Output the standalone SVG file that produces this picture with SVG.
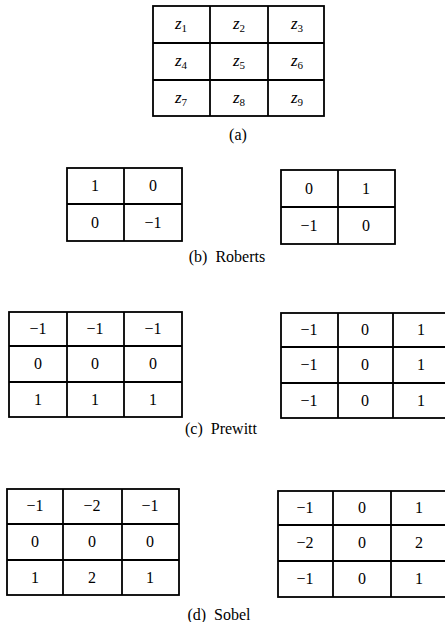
<svg xmlns="http://www.w3.org/2000/svg" width="445" height="622" viewBox="0 0 445 622">
<style>
.g{fill:none;stroke:#000;stroke-width:1.8}
.t{font-size:16px;fill:#000;text-anchor:middle}
.z{font-style:italic;font-size:17px}
.s{font-size:11px;font-style:normal}
.cap{font-size:16px;fill:#000;text-anchor:middle;white-space:pre}
</style>
<rect width="445" height="622" fill="#fff"/>
<g font-family="Liberation Serif, DejaVu Serif, Times New Roman, serif">
<g id="grid-a">
<rect class="g" x="153" y="6" width="171" height="110"/>
<path class="g" d="M210 6V116M268 6V116M153 43H324M153 80H324"/>
<text class="t z" x="181" y="29">z<tspan class="s" dy="3">1</tspan></text>
<text class="t z" x="239" y="29">z<tspan class="s" dy="3">2</tspan></text>
<text class="t z" x="297" y="29">z<tspan class="s" dy="3">3</tspan></text>
<text class="t z" x="181" y="66">z<tspan class="s" dy="3">4</tspan></text>
<text class="t z" x="239" y="66">z<tspan class="s" dy="3">5</tspan></text>
<text class="t z" x="297" y="66">z<tspan class="s" dy="3">6</tspan></text>
<text class="t z" x="181" y="103">z<tspan class="s" dy="3">7</tspan></text>
<text class="t z" x="239" y="103">z<tspan class="s" dy="3">8</tspan></text>
<text class="t z" x="297" y="103">z<tspan class="s" dy="3">9</tspan></text>
<text class="cap" x="238" y="140">(a)</text>
</g>

<g id="roberts-1">
<rect class="g" x="67" y="168" width="115" height="73"/>
<path class="g" d="M124 168V241M67 204H182"/>
<text class="t" x="95" y="191">1</text>
<text class="t" x="153" y="191">0</text>
<text class="t" x="95" y="228">0</text>
<text class="t" x="153" y="228">−1</text>
</g>
<g id="roberts-2">
<rect class="g" x="281" y="170" width="114" height="74"/>
<path class="g" d="M338 170V244M281 207H395"/>
<text class="t" x="309" y="194">0</text>
<text class="t" x="366" y="194">1</text>
<text class="t" x="309" y="231">−1</text>
<text class="t" x="366" y="231">0</text>
</g>
<text class="cap" x="227" y="262" xml:space="preserve">(b)  Roberts</text>

<g id="prewitt-1">
<rect class="g" x="9" y="312" width="173" height="105"/>
<path class="g" d="M67 312V417M124 312V417M9 346H182M9 382H182"/>
<text class="t" x="38" y="334">−1</text>
<text class="t" x="95" y="334">−1</text>
<text class="t" x="153" y="334">−1</text>
<text class="t" x="38" y="369">0</text>
<text class="t" x="95" y="369">0</text>
<text class="t" x="153" y="369">0</text>
<text class="t" x="38" y="405">1</text>
<text class="t" x="95" y="405">1</text>
<text class="t" x="153" y="405">1</text>
</g>
<g id="prewitt-2">
<rect class="g" x="281" y="313" width="168" height="105"/>
<path class="g" d="M338 313V418M393 313V418M281 347H449M281 383H449"/>
<text class="t" x="309" y="335">−1</text>
<text class="t" x="365" y="335">0</text>
<text class="t" x="421" y="335">1</text>
<text class="t" x="309" y="370">−1</text>
<text class="t" x="365" y="370">0</text>
<text class="t" x="421" y="370">1</text>
<text class="t" x="309" y="406">−1</text>
<text class="t" x="365" y="406">0</text>
<text class="t" x="421" y="406">1</text>
</g>
<text class="cap" x="221" y="434" xml:space="preserve">(c)  Prewitt</text>

<g id="sobel-1">
<rect class="g" x="7" y="489" width="172" height="106"/>
<path class="g" d="M63 489V595M122 489V595M7 524H179M7 560H179"/>
<text class="t" x="35" y="511">−1</text>
<text class="t" x="92" y="511">−2</text>
<text class="t" x="150" y="511">−1</text>
<text class="t" x="35" y="547">0</text>
<text class="t" x="92" y="547">0</text>
<text class="t" x="150" y="547">0</text>
<text class="t" x="35" y="583">1</text>
<text class="t" x="92" y="583">2</text>
<text class="t" x="150" y="583">1</text>
</g>
<g id="sobel-2">
<rect class="g" x="278" y="491" width="170" height="106"/>
<path class="g" d="M333 491V597M391 491V597M278 525H448M278 561H448"/>
<text class="t" x="305" y="513">−1</text>
<text class="t" x="362" y="513">0</text>
<text class="t" x="419" y="513">1</text>
<text class="t" x="305" y="548">−2</text>
<text class="t" x="362" y="548">0</text>
<text class="t" x="419" y="548">2</text>
<text class="t" x="305" y="584">−1</text>
<text class="t" x="362" y="584">0</text>
<text class="t" x="419" y="584">1</text>
</g>
<text class="cap" x="219" y="620" xml:space="preserve">(d)  Sobel</text>
</g>
</svg>
